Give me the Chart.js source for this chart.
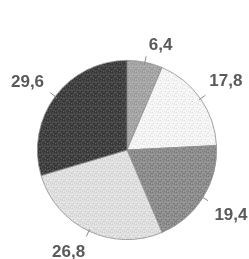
<!DOCTYPE html>
<html>
<head>
<meta charset="utf-8">
<style>
  html, body { margin: 0; padding: 0; background: #fff; }
  #wrap { width: 249px; height: 259px; position: relative; }
</style>
<script src="https://cdn.jsdelivr.net/npm/chart.js@4/dist/chart.umd.min.js"></script>
</head>
<body>
<div id="wrap"><canvas id="pie"></canvas></div>
<script>
// values, clockwise from 12 o'clock
const shares = [6.4, 17.8, 19.4, 26.8, 29.6];
const shareLabels = ['6,4', '17,8', '19,4', '26,8', '29,6'];

// grainy fills like the scanned original
const darkDots = [[0,0],[3,1],[6,0],[1,3],[5,3],[7,5],[2,6],[4,7],[0,5],[6,7]];
const lightDots = [[2,1],[5,1],[0,2],[3,4],[7,2],[1,6],[5,6],[4,2],[7,7],[2,4]];
function grain(base, dark, light){
  const c = document.createElement('canvas');
  c.width = 8; c.height = 8;
  const g = c.getContext('2d');
  g.fillStyle = base; g.fillRect(0,0,8,8);
  g.fillStyle = dark;
  darkDots.forEach(p => g.fillRect(p[0],p[1],1,1));
  g.fillStyle = light;
  lightDots.forEach(p => g.fillRect(p[0],p[1],1,1));
  return g.createPattern(c, 'repeat');
}

const fills = [
  grain('#a6a6a6', '#929292', '#b6b6b6'),
  grain('#f4f4f4', '#e4e4e4', '#ffffff'),
  grain('#8e8e8e', '#767676', '#a0a0a0'),
  grain('#dfdfdf', '#cccccc', '#ececec'),
  grain('#424242', '#2c2c2c', '#5e5e5e')
];

const outerLabels = {
  id: 'outerLabels',
  afterDatasetsDraw(chart, args, opts){
    const ctx = chart.ctx;
    const meta = chart.getDatasetMeta(0);
    ctx.save();
    meta.data.forEach((arc, i) => {
      const p = arc.getProps(['x','y','startAngle','endAngle','outerRadius'], true);
      const mid = (p.startAngle + p.endAngle) / 2;
      // short leader tick across the rim
      ctx.strokeStyle = '#8a8a8a';
      ctx.lineWidth = 1;
      ctx.beginPath();
      ctx.moveTo(p.x + Math.cos(mid) * (p.outerRadius - 2), p.y + Math.sin(mid) * (p.outerRadius - 2));
      ctx.lineTo(p.x + Math.cos(mid) * (p.outerRadius + 6), p.y + Math.sin(mid) * (p.outerRadius + 6));
      ctx.stroke();
      const a = mid + (opts.nudge[i] || 0);
      const d = p.outerRadius + opts.gap[i];
      ctx.fillStyle = '#5a5a5a';
      ctx.font = 'bold 17px "Liberation Sans", Arial, sans-serif';
      ctx.textAlign = 'center';
      ctx.textBaseline = 'middle';
      ctx.fillText(shareLabels[i], p.x + Math.cos(a) * d, p.y + Math.sin(a) * d);
    });
    ctx.restore();
  }
};

new Chart(document.getElementById('pie'), {
  type: 'pie',
  data: {
    labels: shareLabels,
    datasets: [{
      data: shares,
      backgroundColor: fills,
      borderColor: '#8e8e8e',
      borderWidth: 0.8
    }]
  },
  options: {
    responsive: true,
    maintainAspectRatio: false,
    animation: false,
    layout: { padding: { left: 37, right: 32, top: 60, bottom: 19 } },
    plugins: {
      legend: { display: false },
      tooltip: { enabled: false },
      outerLabels: { nudge: [0.11, 0, 0, 0.08, -0.04], gap: [20, 31, 33, 28, 31] }
    }
  },
  plugins: [outerLabels]
});
</script>
</body>
</html>
